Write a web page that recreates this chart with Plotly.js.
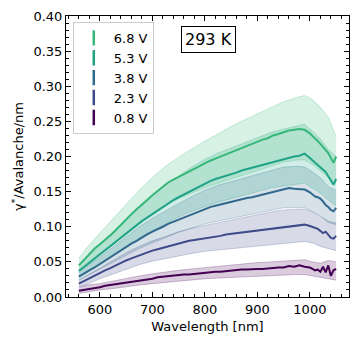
<!DOCTYPE html>
<html>
<head>
<meta charset="utf-8">
<script src="https://cdn.plot.ly/plotly-3.0.1.min.js"></script>
<style>
    html, body { margin: 0; padding: 0; background: #fff; }
    #plot { width: 360px; height: 344px; }
</style>
</head>
<body>
<div id="plot"></div>
<script>
// Longitudes de onda (nm) de las curvas centrales
const WL = [560, 570, 580, 590, 600, 610, 620, 630, 640, 650, 660, 670, 680, 690, 700, 710, 720, 730, 740, 750,
    760, 770, 780, 790, 800, 810, 820, 830, 840, 850, 860, 870, 880, 890, 900, 910, 920, 930, 940, 950,
    960, 970, 980, 990, 1000, 1005, 1010, 1015, 1020, 1025, 1030, 1035, 1040, 1045, 1050];

// gamma* por voltaje
const V68 = [0.045, 0.053, 0.061, 0.069, 0.075, 0.081, 0.088, 0.095, 0.103, 0.111, 0.118, 0.125, 0.131, 0.138, 0.145, 0.151, 0.157, 0.163, 0.167, 0.171,
    0.175, 0.179, 0.183, 0.187, 0.191, 0.194, 0.197, 0.200, 0.204, 0.206, 0.209, 0.212, 0.215, 0.218, 0.221, 0.224, 0.226, 0.230, 0.232, 0.235,
    0.237, 0.238, 0.239, 0.238, 0.233, 0.229, 0.226, 0.222, 0.218, 0.214, 0.210, 0.205, 0.198, 0.191, 0.200];
const V53 = [0.037, 0.043, 0.049, 0.054, 0.060, 0.066, 0.072, 0.078, 0.084, 0.090, 0.096, 0.102, 0.108, 0.113, 0.118, 0.124, 0.129, 0.134, 0.138, 0.142,
    0.146, 0.150, 0.154, 0.158, 0.162, 0.165, 0.168, 0.170, 0.173, 0.175, 0.177, 0.180, 0.182, 0.184, 0.187, 0.189, 0.191, 0.193, 0.195, 0.197,
    0.199, 0.200, 0.201, 0.204, 0.198, 0.194, 0.191, 0.188, 0.185, 0.182, 0.178, 0.172, 0.165, 0.160, 0.168];
const V38 = [0.029, 0.034, 0.038, 0.042, 0.047, 0.051, 0.056, 0.061, 0.066, 0.071, 0.076, 0.080, 0.085, 0.089, 0.093, 0.096, 0.100, 0.104, 0.107, 0.110,
    0.113, 0.117, 0.120, 0.123, 0.126, 0.128, 0.130, 0.132, 0.134, 0.135, 0.137, 0.139, 0.141, 0.142, 0.144, 0.146, 0.148, 0.150, 0.152, 0.153,
    0.155, 0.154, 0.153, 0.153, 0.149, 0.146, 0.143, 0.142, 0.140, 0.136, 0.131, 0.128, 0.124, 0.122, 0.127];
const V23 = [0.019, 0.023, 0.027, 0.030, 0.034, 0.038, 0.041, 0.045, 0.049, 0.052, 0.055, 0.058, 0.061, 0.064, 0.066, 0.068, 0.070, 0.072, 0.075, 0.077,
    0.078, 0.080, 0.081, 0.082, 0.084, 0.085, 0.086, 0.087, 0.089, 0.090, 0.091, 0.092, 0.093, 0.094, 0.095, 0.096, 0.097, 0.098, 0.099, 0.100,
    0.101, 0.102, 0.102, 0.103, 0.101, 0.100, 0.099, 0.097, 0.094, 0.091, 0.093, 0.089, 0.084, 0.083, 0.087];
const V08 = [0.009, 0.010, 0.012, 0.013, 0.014, 0.016, 0.017, 0.018, 0.020, 0.021, 0.022, 0.023, 0.024, 0.025, 0.026, 0.028, 0.029, 0.030, 0.030, 0.031,
    0.032, 0.032, 0.033, 0.034, 0.035, 0.035, 0.036, 0.036, 0.037, 0.038, 0.038, 0.039, 0.039, 0.040, 0.040, 0.040, 0.041, 0.041, 0.042, 0.042,
    0.044, 0.043, 0.045, 0.043, 0.042, 0.040, 0.038, 0.039, 0.036, 0.043, 0.035, 0.045, 0.030, 0.038, 0.040];

// Bandas de incertidumbre
const BWL = [560, 575, 600, 625, 650, 675, 700, 725, 750, 775, 800, 825, 850, 875, 900, 925, 950, 975, 990, 1005, 1020, 1035, 1050];
const HI68 = [0.055, 0.070, 0.091, 0.111, 0.132, 0.152, 0.170, 0.186, 0.199, 0.211, 0.222, 0.232, 0.243, 0.252, 0.261, 0.269, 0.278, 0.284, 0.287, 0.281, 0.270, 0.256, 0.228];
const LO68 = [0.037, 0.047, 0.062, 0.075, 0.091, 0.104, 0.119, 0.131, 0.140, 0.148, 0.156, 0.162, 0.168, 0.174, 0.180, 0.186, 0.192, 0.195, 0.195, 0.189, 0.180, 0.170, 0.160];
const HI53 = [0.045, 0.056, 0.073, 0.090, 0.109, 0.127, 0.143, 0.160, 0.172, 0.185, 0.196, 0.205, 0.212, 0.219, 0.226, 0.234, 0.239, 0.243, 0.246, 0.236, 0.225, 0.210, 0.200];
const LO53 = [0.029, 0.036, 0.048, 0.060, 0.072, 0.084, 0.094, 0.105, 0.114, 0.122, 0.129, 0.135, 0.140, 0.145, 0.150, 0.155, 0.158, 0.160, 0.162, 0.155, 0.148, 0.138, 0.130];
const HI38 = [0.035, 0.044, 0.057, 0.071, 0.086, 0.100, 0.112, 0.123, 0.133, 0.143, 0.152, 0.159, 0.164, 0.169, 0.174, 0.180, 0.185, 0.186, 0.185, 0.178, 0.170, 0.157, 0.152];
const LO38 = [0.024, 0.030, 0.039, 0.049, 0.059, 0.069, 0.077, 0.085, 0.092, 0.098, 0.104, 0.108, 0.112, 0.116, 0.120, 0.124, 0.127, 0.127, 0.127, 0.122, 0.116, 0.106, 0.103];
const HI23 = [0.024, 0.030, 0.041, 0.052, 0.063, 0.072, 0.080, 0.086, 0.093, 0.098, 0.102, 0.106, 0.110, 0.114, 0.118, 0.121, 0.124, 0.125, 0.125, 0.121, 0.114, 0.108, 0.105];
const LO23 = [0.015, 0.018, 0.026, 0.033, 0.040, 0.046, 0.051, 0.055, 0.059, 0.062, 0.065, 0.067, 0.069, 0.071, 0.073, 0.075, 0.077, 0.078, 0.079, 0.077, 0.072, 0.069, 0.066];
const HI08 = [0.014, 0.017, 0.019, 0.023, 0.027, 0.030, 0.033, 0.036, 0.038, 0.040, 0.042, 0.044, 0.046, 0.047, 0.049, 0.050, 0.051, 0.053, 0.053, 0.050, 0.048, 0.052, 0.050];
const LO08 = [0.005, 0.007, 0.010, 0.012, 0.015, 0.017, 0.019, 0.021, 0.023, 0.024, 0.026, 0.027, 0.028, 0.029, 0.030, 0.031, 0.031, 0.032, 0.032, 0.030, 0.027, 0.026, 0.024];

const LABELS = ['6.8 V', '5.3 V', '3.8 V', '2.3 V', '0.8 V'];
const COLORS = ['#35b779', '#20a386', '#31688e', '#3e4a89', '#440154'];

const SERIES = [
    { y: V68, lo: LO68, hi: HI68 },
    { y: V53, lo: LO53, hi: HI53 },
    { y: V38, lo: LO38, hi: HI38 },
    { y: V23, lo: LO23, hi: HI23 },
    { y: V08, lo: LO08, hi: HI08 }
];

function rgba(hex, a) {
    const r = parseInt(hex.slice(1, 3), 16);
    const g = parseInt(hex.slice(3, 5), 16);
    const b = parseInt(hex.slice(5, 7), 16);
    return `rgba(${r},${g},${b},${a})`;
}

const traces = [];

// Bandas (de abajo hacia arriba)
for (let i = SERIES.length - 1; i >= 0; i--) {
    const s = SERIES[i];
    traces.push({
        type: 'scatter', mode: 'lines', x: BWL, y: s.lo,
        line: { color: rgba(COLORS[i], 0.25), width: 1 },
        showlegend: false, hoverinfo: 'skip'
    });
    traces.push({
        type: 'scatter', mode: 'lines', x: BWL, y: s.hi,
        line: { color: rgba(COLORS[i], 0.25), width: 1 },
        fill: 'tonexty', fillcolor: rgba(COLORS[i], 0.2),
        showlegend: false, hoverinfo: 'skip'
    });
}

// Curvas centrales
for (let i = SERIES.length - 1; i >= 0; i--) {
    traces.push({
        type: 'scatter', mode: 'lines', x: WL, y: SERIES[i].y,
        line: { color: COLORS[i], width: 2 },
        name: LABELS[i], showlegend: false
    });
}

// Entradas de leyenda (marca vertical)
LABELS.forEach((lab, i) => {
    traces.push({
        type: 'scatter', mode: 'markers', x: [null], y: [null],
        marker: { symbol: 'line-ns', size: 11, line: { color: COLORS[i], width: 2.5 } },
        name: lab, showlegend: true
    });
});

const axisFont = { family: 'DejaVu Sans', size: 13, color: '#000' };

const layout = {
    width: 360, height: 344,
    margin: { l: 66, r: 11, t: 16, b: 47 },
    paper_bgcolor: '#fff', plot_bgcolor: '#fff',
    font: axisFont,
    showlegend: true,
    xaxis: {
        range: [535.5, 1074.5], dtick: 100,
        ticks: 'inside', ticklen: 5, tickcolor: '#000',
        showline: true, linecolor: '#000', linewidth: 1, mirror: 'ticks',
        minor: { dtick: 20, ticks: 'inside', ticklen: 3, tickcolor: '#000', showgrid: false },
        showgrid: false, zeroline: false,
        tickfont: axisFont,
        title: { text: 'Wavelength [nm]', font: axisFont, standoff: 6 }
    },
    yaxis: {
        range: [0, 0.4], dtick: 0.05, tickformat: '.2f',
        ticks: 'inside', ticklen: 5, tickcolor: '#000',
        showline: true, linecolor: '#000', linewidth: 1, mirror: 'ticks',
        minor: { dtick: 0.01, ticks: 'inside', ticklen: 3, tickcolor: '#000', showgrid: false },
        showgrid: false, zeroline: false,
        tickfont: axisFont,
        title: { text: 'γ<sup>*</sup>/Avalanche/nm', font: axisFont, standoff: 6 }
    },
    legend: {
        x: 0.024, y: 0.979, xanchor: 'left', yanchor: 'top',
        bgcolor: 'rgba(255,255,255,0.8)', bordercolor: '#cccccc', borderwidth: 1,
        font: { family: 'DejaVu Sans', size: 13, color: '#000' },
        traceorder: 'normal'
    },
    annotations: [{
        text: '293 K', xref: 'paper', yref: 'paper', x: 0.504, y: 0.915,
        xanchor: 'center', yanchor: 'middle', showarrow: false,
        font: { family: 'DejaVu Sans', size: 16, color: '#000' },
        bordercolor: '#000', borderwidth: 1, borderpad: 3, bgcolor: '#fff'
    }]
};

Plotly.newPlot('plot', traces, layout, { staticPlot: true });
</script>
</body>
</html>
